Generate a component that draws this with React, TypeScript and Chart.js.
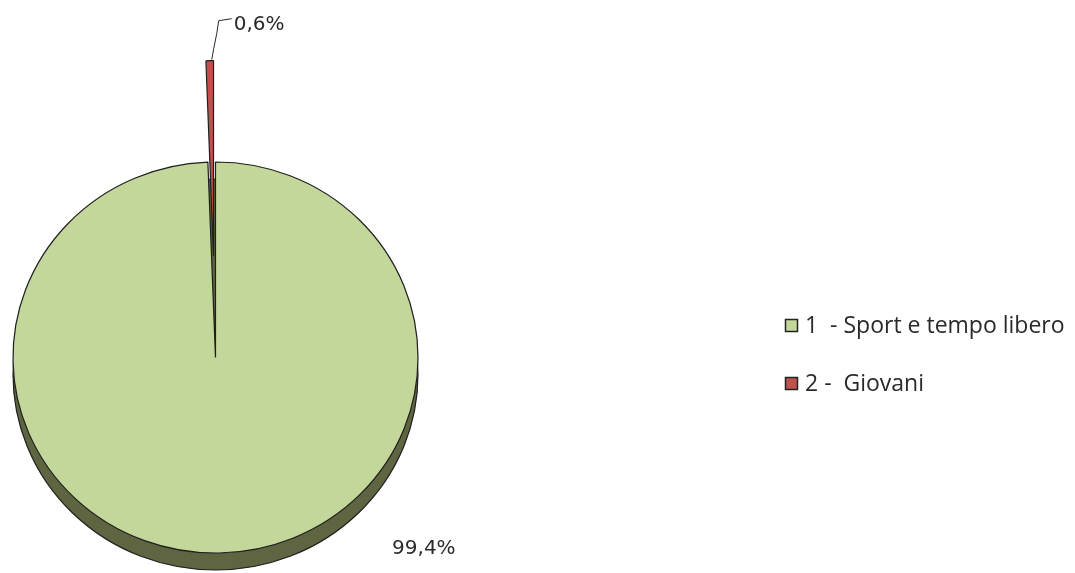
import React, { useEffect, useRef } from 'react';
import { Chart, registerables } from 'chart.js';

Chart.register(...registerables);

const categories = ['1  - Sport e tempo libero', '2 -  Giovani'];
const values = [99.4, 0.6];
const valueLabels = ['99,4%', '0,6%'];
const sliceColors = ['#c4d79b', '#c0504d'];
const explodeOffsets = [0, 105];

const W = 1075;
const H = 573;
const LABEL_FONT = '"DejaVu Sans", Verdana, sans-serif';
const LEGEND_FONT = '"Open Sans", "Noto Sans", sans-serif';
const Y_SQUASH = 0.9654;
const SHADOW_DROP = 17.6;

const decorPlugin = {
  id: 'decor',
  afterDatasetsUpdate(chart: any) {
    const meta = chart.getDatasetMeta(0);
    meta.data.forEach((arc: any, i: number) => {
      const off = explodeOffsets[i];
      if (!off) return;
      const mid = (arc.startAngle + arc.endAngle) / 2;
      arc.x = arc.x + Math.cos(mid) * off;
      arc.y = arc.y + Math.sin(mid) * off;
    });
  },
  beforeDatasetsDraw(chart: any) {
    const meta = chart.getDatasetMeta(0);
    const arc = meta.data[0];
    if (!arc) return;
    const { x, y, outerRadius } = arc;
    const ctx = chart.ctx;
    ctx.save();
    ctx.translate(x, y);
    ctx.scale(1, Y_SQUASH);
    ctx.translate(-x, -y);
    ctx.beginPath();
    ctx.arc(x, y + SHADOW_DROP, outerRadius, 0, Math.PI * 2);
    ctx.fillStyle = '#5f6441';
    ctx.fill();
    ctx.lineWidth = 1.2;
    ctx.strokeStyle = '#1f1f1f';
    ctx.stroke();
  },
  afterDatasetsDraw(chart: any) {
    const ctx = chart.ctx;
    ctx.restore();
    const meta = chart.getDatasetMeta(0);
    const base = meta.data[0];
    const cx = base.x;
    const cy = base.y;
    const R = base.outerRadius;
    ctx.save();
    ctx.fillStyle = '#2a2a2a';
    ctx.strokeStyle = '#2a2a2a';
    ctx.lineWidth = 1;
    ctx.textBaseline = 'middle';
    ctx.textAlign = 'left';
    ctx.font = `20px ${LABEL_FONT}`;
    meta.data.forEach((arc: any, i: number) => {
      const mid = (arc.startAngle + arc.endAngle) / 2;
      if (explodeOffsets[i] > 0) {
        const px = arc.x + Math.cos(mid) * arc.outerRadius;
        const pyRaw = arc.y + Math.sin(mid) * arc.outerRadius;
        const py = cy + (pyRaw - cy) * Y_SQUASH;
        ctx.beginPath();
        ctx.moveTo(px + 2, py - 1);
        ctx.lineTo(px + 4, py - 12);
        ctx.lineTo(px + 7, py - 27);
        ctx.lineTo(px + 9, py - 40);
        ctx.lineTo(px + 22, py - 42);
        ctx.stroke();
        ctx.fillText(valueLabels[i], px + 24, py - 36);
      } else {
        ctx.fillText(valueLabels[i], cx + R * 0.872, cy + R * 0.946);
      }
    });
    // legend
    const lx = 785;
    const rows = [326, 384];
    categories.forEach((c, i) => {
      const ry = rows[i];
      ctx.fillStyle = sliceColors[i];
      ctx.fillRect(lx, ry - 7, 13, 13);
      ctx.strokeStyle = '#222222';
      ctx.lineWidth = 1.5;
      ctx.strokeRect(lx + 0.5, ry - 6.5, 12, 12);
      ctx.fillStyle = '#2a2a2a';
      ctx.font = `23px ${LEGEND_FONT}`;
      ctx.fillText(c, lx + 20, ry);
    });
    ctx.restore();
  },
};

export default function App() {
  const canvasRef = useRef<HTMLCanvasElement | null>(null);

  useEffect(() => {
    const canvas = canvasRef.current;
    if (!canvas) return;
    const chart = new Chart(canvas, {
      type: 'pie',
      data: {
        labels: categories,
        datasets: [
          {
            data: values,
            backgroundColor: sliceColors,
            borderColor: '#1f1f1f',
            borderWidth: 1.2,
            radius: 202.5,
            clip: false as any,
          },
        ],
      },
      options: {
        responsive: false,
        animation: false,
        devicePixelRatio: 1,
        layout: { padding: { left: 0, right: 644, top: 142, bottom: 0 } },
        plugins: {
          legend: { display: false },
          tooltip: { enabled: false },
        },
      },
      plugins: [decorPlugin],
    });
    return () => chart.destroy();
  }, []);

  return (
    <div style={{ position: 'fixed', left: 0, top: 0, width: W, height: H, background: '#fff' }}>
      <canvas ref={canvasRef} width={W} height={H} style={{ display: 'block' }} />
    </div>
  );
}
